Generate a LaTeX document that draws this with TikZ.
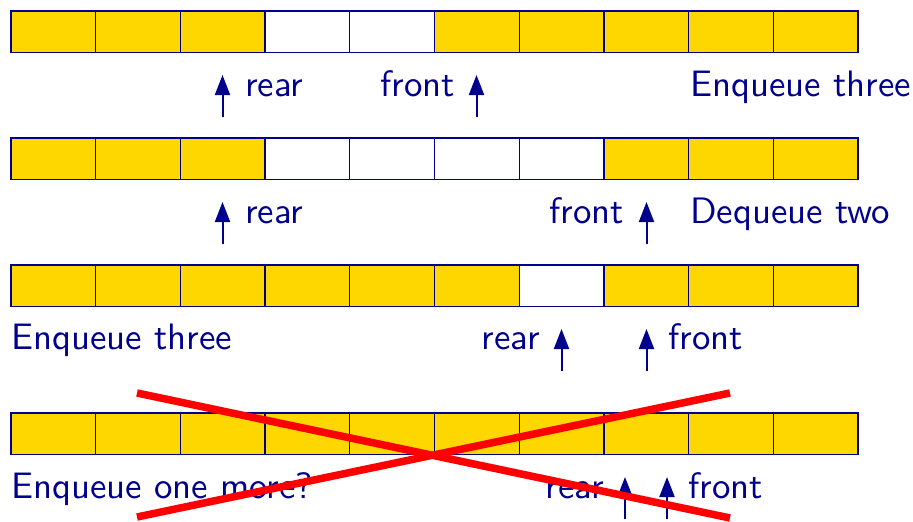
\documentclass[tikz,border=0pt]{standalone}
\usepackage{fontspec}
\newfontfamily\lmsx{lmsans10-regular.otf}
\usetikzlibrary{arrows.meta}
\definecolor{navy}{RGB}{0,0,140}
\definecolor{qyellow}{RGB}{255,215,0}
\begin{document}
\begin{tikzpicture}[x=1pt,y=-1pt,
  every node/.style={text=navy},
  txt/.style={font=\lmsx\fontsize{36.8}{42}\selectfont, inner sep=0pt},
  cell/.style={minimum width=84.7pt, minimum height=41.5pt, inner sep=0pt, outer sep=0pt, anchor=north west},
  grid/.style={draw=navy, line width=1.3pt},
  Y/.style={fill=qyellow}, W/.style={fill=white},
  ptr/.style={draw=navy, line width=2pt, -{Triangle[length=20pt,width=15pt]}},
  cross/.style={draw=red, line width=7.5pt}]
\useasboundingbox (0,0) rectangle (913,522);
\foreach \r/\t/\cols in {1/11/{Y,Y,Y,W,W,Y,Y,Y,Y,Y},2/138/{Y,Y,Y,W,W,W,W,Y,Y,Y},3/265/{Y,Y,Y,Y,Y,Y,W,Y,Y,Y},4/413/{Y,Y,Y,Y,Y,Y,Y,Y,Y,Y}}{
  \foreach \c [count=\i] in \cols {
    \node[cell,\c] (r\r c\i) at ({11+84.7*(\i-1)},\t) {};
  }
  \draw[grid] (r\r c1.north west) rectangle (r\r c10.south east);
  \foreach \i in {2,...,10} {
    \draw[grid] (r\r c\i.north west) -- (r\r c\i.south west);
  }
}
% row 1
\coordinate (t1r) at (222.5,117); \coordinate (h1r) at (222.5,75);
\coordinate (t1f) at (476.5,117); \coordinate (h1f) at (476.5,75);
\draw[ptr] (t1r) -- (h1r);
\draw[ptr] (t1f) -- (h1f);
\node[txt, anchor=base west] (l1r) at (245,96) {rear};
\node[txt, anchor=base east] (l1f) at (455,96) {front};
\node[txt, anchor=base west] (l1m) at (690,96) {Enqueue three};
% row 2
\coordinate (t2r) at (222.5,244); \coordinate (h2r) at (222.5,202);
\coordinate (t2f) at (646.5,244); \coordinate (h2f) at (646.5,202);
\draw[ptr] (t2r) -- (h2r);
\draw[ptr] (t2f) -- (h2f);
\node[txt, anchor=base west] (l2r) at (245,223) {rear};
\node[txt, anchor=base east] (l2f) at (624,223) {front};
\node[txt, anchor=base west] (l2m) at (690,223) {Dequeue two};
% row 3
\coordinate (t3r) at (561.5,371); \coordinate (h3r) at (561.5,329);
\coordinate (t3f) at (646.5,371); \coordinate (h3f) at (646.5,329);
\draw[ptr] (t3r) -- (h3r);
\draw[ptr] (t3f) -- (h3f);
\node[txt, anchor=base east] (l3r) at (540,349) {rear};
\node[txt, anchor=base west] (l3f) at (668,349) {front};
\node[txt, anchor=base west] (l3m) at (11,349) {Enqueue three};
% row 4
\coordinate (t4r) at (625,519); \coordinate (h4r) at (625,477);
\coordinate (t4f) at (667,519); \coordinate (h4f) at (667,477);
\draw[ptr] (t4r) -- (h4r);
\draw[ptr] (t4f) -- (h4f);
\node[txt, anchor=base east] (l4r) at (604,498) {rear};
\node[txt, anchor=base west] (l4f) at (688,498) {front};
\node[txt, anchor=base west] (l4m) at (11,498) {Enqueue one more?};
% cross
\coordinate (x1) at (137,393); \coordinate (x2) at (730,518);
\coordinate (x3) at (137,517); \coordinate (x4) at (730,393);
\draw[cross] (x1) -- (x2);
\draw[cross] (x3) -- (x4);
\end{tikzpicture}
\end{document}
